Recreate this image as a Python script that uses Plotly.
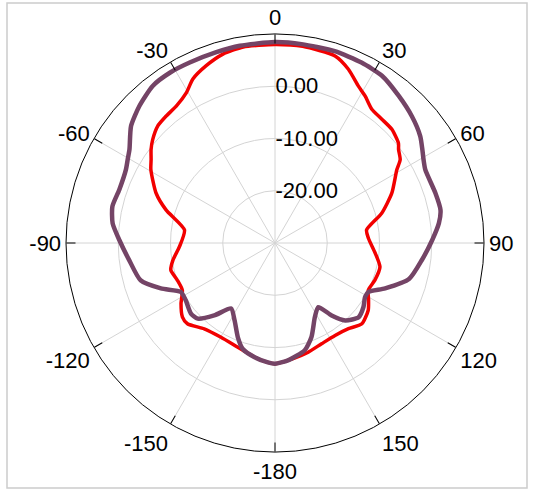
import plotly.graph_objects as go

# gain patterns (deg clockwise from top, dB)
theta_purple = [-180, -176.6, -169.9, -163.1, -158.5, -152.4, -146.2, -140, -134.4, -130,
                -122.7, -117.5, -111.7, -105.5, -96.7, -88.9, -83.1, -77.3, -71.1, -63.8,
                -60.5, -57.3, -50.9, -44.7, -37.9, -31.7, -25.3, -17.1, -10.1, 0,
                7.6, 17.3, 25.6, 32.6, 40, 47.2, 53.7, 57.6, 60.7, 64,
                72.7, 78.7, 83.1, 88.9, 96.6, 104.9, 112.4, 117.6, 120.9, 125.9,
                131.6, 137.8, 142, 146, 151.7, 158.8, 164.5, 173.7, 180]
r_purple = [-6.9, -7.1, -7.8, -8.8, -10.6, -13.3, -14.9, -11.9, -9.3, -9.0,
            -9.7, -9.7, -6.5, -3.3, -1.9, -0.2, 1.3, 1.9, 1.5, 1.8,
            2.4, 3.1, 5.5, 6.9, 8.1, 8.3, 8.2, 8.2, 8.35, 8.45,
            8.4, 8.45, 8.3, 8.0, 6.8, 5.7, 4.5, 3.4, 2.6, 2.0,
            2.15, 2.3, 1.6, 0.1, -1.7, -3.4, -7.2, -9.8, -9.9, -9.1,
            -8.6, -10.0, -12.4, -15.2, -13.9, -10.7, -8.7, -7.4, -6.9]

theta_red = [-180, -176.6, -169.9, -160.4, -150.2, -140.5, -132.7, -128.7, -122.8, -117,
             -110.9, -104.6, -99.5, -92.2, -81.8, -73.1, -67.2, -59.4, -56, -53,
             -49.8, -45.1, -40.6, -35.8, -30.5, -26.6, -21.2, -15.4, -9.2, 0,
             8, 17.8, 22.9, 28, 31.5, 35.9, 40.8, 45.8, 51, 52.9,
             56.3, 59, 66.9, 74.4, 81.9, 87.1, 95.9, 102.8, 110.4, 116.8,
             121.5, 125.8, 132.9, 139.4, 147, 155.2, 163.1, 166.8, 173.7, 180]
r_red = [-6.9, -7.1, -7.8, -8.8, -9.2, -8.7, -7.2, -7.3, -8.6, -10.1,
         -10.0, -9.4, -10.2, -11.7, -12.5, -8.2, -5.3, -2.4, -1.4, -0.3,
         0.65, 1.7, 2.0, 2.3, 3.4, 5.1, 6.4, 7.5, 8.0, 8.0,
         8.0, 7.6, 6.1, 4.0, 3.0, 1.6, 1.3, 1.2, 0.4, -0.35,
         -1.2, -2.8, -5.7, -8.8, -12.3, -12.1, -10.7, -9.4, -9.6, -10.0,
         -9.0, -8.0, -7.3, -8.4, -8.9, -8.75, -8.15, -7.9, -7.4, -6.9]

major_ticks = [0, 30, 60, 90, 120, 150, 180, 210, 240, 270, 300, 330]
major_text = ["0", "30", "60", "90", "120", "150", "-180", "-150", "-120", "-90", "-60", "-30"]
minor_ticks = list(range(0, 360, 5))
radial_ticks = [-20, -10, 0]
radial_text = ["-20.00", "-10.00", "0.00"]

fig = go.Figure()
fig.add_trace(go.Scatterpolar(theta=theta_red, r=r_red, mode="lines",
                              line=dict(color="#f20000", width=3.5, shape="spline", smoothing=0.6),
                              subplot="polar2", showlegend=False))
fig.add_trace(go.Scatterpolar(theta=theta_purple, r=r_purple, mode="lines",
                              line=dict(color="#744466", width=4.5, shape="spline", smoothing=0.6),
                              subplot="polar2", showlegend=False))

dom = dict(x=[66 / 538, 484 / 538], y=[41 / 493, 459 / 493])
font = dict(family="Liberation Sans, Arial", size=22, color="black")

fig.update_layout(
    width=538, height=493,
    margin=dict(l=0, r=0, t=0, b=0),
    paper_bgcolor="white",
    polar=dict(
        domain=dom, bgcolor="white",
        angularaxis=dict(rotation=90, direction="clockwise", tickmode="array",
                         tickvals=minor_ticks, ticktext=[""] * len(minor_ticks),
                         ticks="inside", ticklen=5, tickcolor="black", showgrid=False,
                         showline=True, linecolor="black", linewidth=1),
        radialaxis=dict(range=[-30, 10], visible=False),
    ),
    polar2=dict(
        domain=dom, bgcolor="rgba(0,0,0,0)",
        angularaxis=dict(rotation=90, direction="clockwise", tickmode="array",
                         tickvals=major_ticks, ticktext=major_text,
                         ticks="inside", ticklen=9, tickcolor="black", tickfont=font,
                         showgrid=True, gridcolor="#d4d4d4", gridwidth=1,
                         showline=True, linecolor="black", linewidth=1),
        radialaxis=dict(range=[-30, 10], tickmode="array", tickvals=radial_ticks,
                        ticktext=radial_text, angle=90, tickangle=90, tickfont=font,
                        showline=False, ticks="", showgrid=True, gridcolor="#d4d4d4",
                        gridwidth=1),
    ),
    shapes=[dict(type="rect", xref="paper", yref="paper",
                 x0=7 / 538, x1=527 / 538, y0=5 / 493, y1=490 / 493,
                 line=dict(color="#cccccc", width=1.5))],
)

fig.write_html("out.html", config={"displayModeBar": False},
               post_script="document.body.style.margin='0';document.body.style.overflow='hidden';")
